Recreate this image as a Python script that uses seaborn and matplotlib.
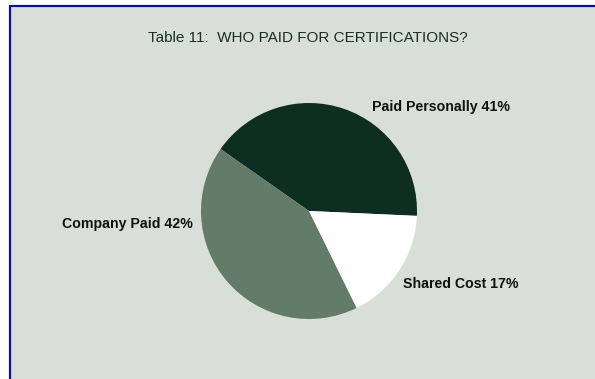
import matplotlib
matplotlib.use("Agg")
import matplotlib.pyplot as plt
from matplotlib.patches import Rectangle
import seaborn as sns

# ---- data ----
categories = ["Paid Personally", "Company Paid", "Shared Cost"]
shares = [41, 42, 17]
title_text = "Table 11:  WHO PAID FOR CERTIFICATIONS?"

sns.set_theme(style="white")
plt.rcParams["font.family"] = ["Liberation Sans", "DejaVu Sans"]

W, H = 595, 379
fig = plt.figure(figsize=(W / 100, H / 100), dpi=100)
fig.patch.set_facecolor("white")

def fx(px):
    return px / W

def fy(py):
    return 1 - py / H

# panel background with navy frame (cropped at right/bottom)
fig.patches.append(Rectangle((fx(10), -0.1), 1.2, fy(6) + 0.1,
                             transform=fig.transFigure, facecolor="#d8dfd8",
                             edgecolor="#10108a", linewidth=1.6, zorder=-5))

colors = sns.color_palette(["#0f2e22", "#637c69", "#ffffff"])

cx, cy, r = 309, 211, 108
ax = fig.add_axes([fx(cx - r), 1 - (cy + r) / H, 2 * r / W, 2 * r / H])
ax.set_zorder(2)
ax.patch.set_visible(False)
ax.pie(shares, colors=colors, startangle=-2.6, counterclock=True,
       radius=1, wedgeprops=dict(linewidth=0))
ax.set_xlim(-1, 1)
ax.set_ylim(-1, 1)
ax.axis("off")

fig.text(fx(308), fy(38), title_text, ha="center", va="center",
         fontsize=11, color="#1a2e22", zorder=3)

label_pos = [(372, 107), (62, 224), (403, 284)]
for name, val, (px, py) in zip(categories, shares, label_pos):
    fig.text(fx(px), fy(py), f"{name} {val}%", ha="left", va="center",
             fontsize=10.2, fontweight="bold", color="#111111", zorder=3)

fig.savefig("out.png", dpi=100, facecolor=fig.get_facecolor())
